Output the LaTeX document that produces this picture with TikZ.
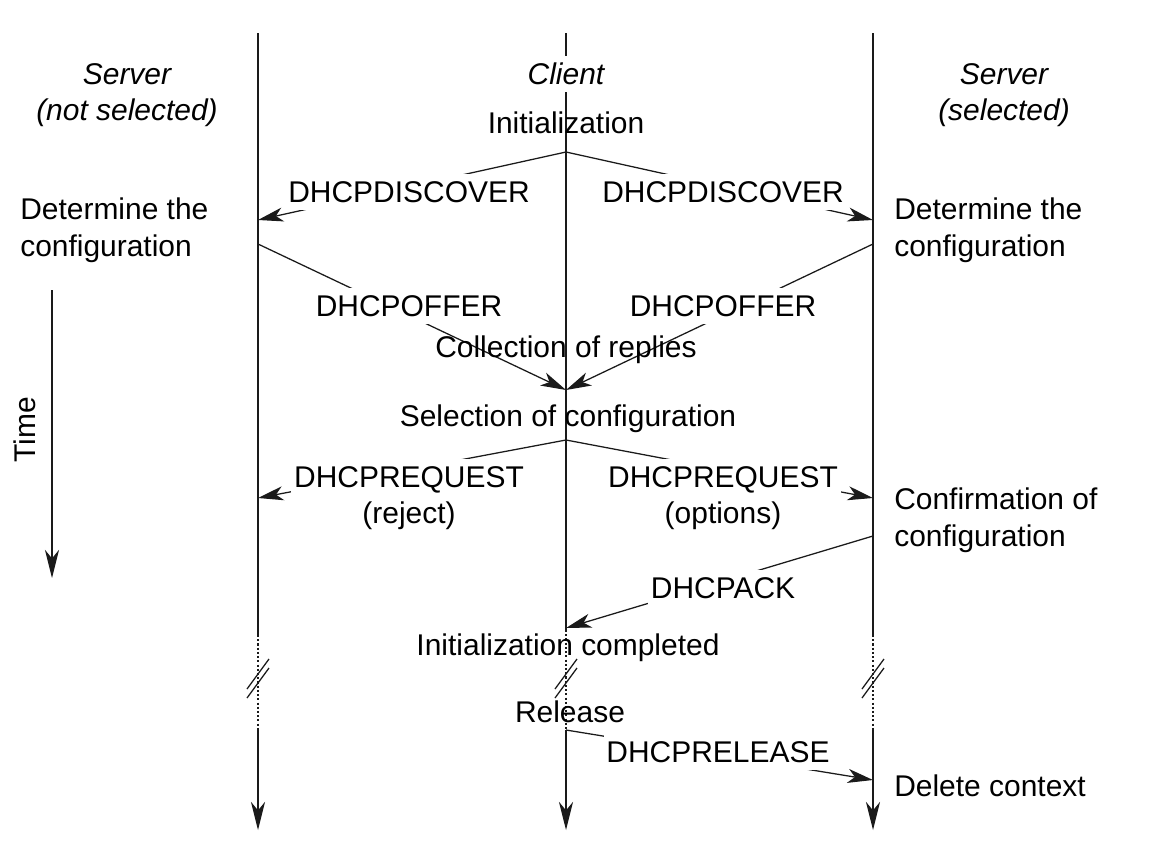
\documentclass[tikz,border=0pt]{standalone}
\usepackage{fontspec}
\setmainfont{Liberation Sans}
\usetikzlibrary{arrows.meta}
\usetikzlibrary{calc}
\definecolor{fg}{HTML}{1A1A1A}
\definecolor{bg}{HTML}{FFFFFF}

\tikzset{
  life/.style={draw=fg, line width=1pt},
  lifeclient/.style={draw=fg, line width=2pt},
  gap/.style={draw=fg, line width=1pt, dash pattern=on 1.5pt off 1.5pt},
  lifeend/.style={-{Stealth[length=20pt, width=10pt, inset=6pt]}},
  msg/.style={draw=fg, line width=0.9pt, -{Stealth[length=18pt, width=10pt, inset=5pt]}},
  brk/.style={draw=fg, line width=0.9pt},
  lbl/.style={fill=bg, inner xsep=2pt, inner ysep=5pt, align=center},
  txt/.style={inner sep=0pt, align=left},
}

\begin{document}
\begin{tikzpicture}[x=0.025cm, y=-0.025cm, font=\fontsize{21.3}{26}\selectfont]
  \useasboundingbox (0,0) rectangle (1172,849);

  % lifelines
  \coordinate (sl) at (258,33);
  \coordinate (cl) at (566,33);
  \coordinate (sr) at (873,33);

  \foreach \s in {sl,sr}{
    \draw[life] (\s) -- ($(\s)+(0,602)$);
    \draw[gap] ($(\s)+(0,602)$) -- ($(\s)+(0,697)$);
    \draw[life, lifeend] ($(\s)+(0,697)$) -- ($(\s)+(0,797)$);
  }
  \draw[lifeclient] (cl) -- ($(cl)+(0,597)$);
  \draw[gap] ($(cl)+(0,597)$) -- ($(cl)+(0,697)$);
  \draw[life, lifeend] ($(cl)+(0,697)$) -- ($(cl)+(0,797)$);

  % break marks
  \foreach \s in {sl,cl,sr}{
    \draw[brk] ($(\s)+(-11,656)$) -- ++(22,-30);
    \draw[brk] ($(\s)+(-11,665)$) -- ++(22,-30);
  }

  % points on the lifelines
  \coordinate (init) at ($(cl)+(0,119)$);
  \coordinate (disl) at ($(sl)+(0,187)$);
  \coordinate (disr) at ($(sr)+(0,187)$);
  \coordinate (offl) at ($(sl)+(0,211)$);
  \coordinate (offr) at ($(sr)+(0,211)$);
  \coordinate (coll) at ($(cl)+(0,357)$);
  \coordinate (sel)  at ($(cl)+(0,407)$);
  \coordinate (reql) at ($(sl)+(0,465)$);
  \coordinate (reqr) at ($(sr)+(0,465)$);
  \coordinate (conf) at ($(sr)+(0,503)$);
  \coordinate (done) at ($(cl)+(0,595)$);
  \coordinate (rel)  at ($(cl)+(0,697)$);
  \coordinate (del)  at ($(sr)+(0,747)$);

  % messages
  \draw[msg] (init) -- (disl);
  \draw[msg] (init) -- (disr);
  \draw[msg] (offl) -- (coll);
  \draw[msg] (offr) -- (coll);
  \draw[msg] (sel) -- (reql);
  \draw[msg] (sel) -- (reqr);
  \draw[msg] (conf) -- (done);
  \draw[msg] (rel) -- (del);

  \node[lbl] (disL) at (409,192) {DHCPDISCOVER};
  \node[lbl] (disR) at (723,192) {DHCPDISCOVER};
  \node[lbl] (offL) at (409,306) {DHCPOFFER};
  \node[lbl] (offR) at (723,306) {DHCPOFFER};
  \node[lbl] (reqL) at (409,498) {DHCPREQUEST\\(reject)};
  \node[lbl] (reqR) at (723,498) {DHCPREQUEST\\(options)};
  \node[lbl] (ack)  at (723,588) {DHCPACK};
  \node[lbl] (relM) at (718,752) {DHCPRELEASE};

  % headings
  \node[align=center, font=\fontsize{21.3}{26}\selectfont\itshape] (srvL) at (127,95) {Server\\(not selected)};
  \node[align=center, font=\fontsize{21.3}{26}\selectfont\itshape] (srvR) at (1004,95) {Server\\(selected)};
  \node[fill=bg, inner sep=5pt, font=\fontsize{21.3}{26}\selectfont\itshape] (cli) at (566,74) {Client};

  % states
  \node (sInit) at (566,123) {Initialization};
  \node[txt, anchor=north west] (detL) at (20,198) {Determine the\\configuration};
  \node[txt, anchor=north west] (detR) at (894,198) {Determine the\\configuration};
  \node (sColl) at (566,350) {Collection of replies};
  \node (sSel) at (568,419) {Selection of configuration};
  \node[txt, anchor=north west] (sConf) at (894,488) {Confirmation of\\configuration};
  \node (sDone) at (568,648) {Initialization completed};
  \node (sRel) at (570,712) {Release};
  \node[txt, anchor=west] (sDel) at (894,786) {Delete context};

  % time axis
  \coordinate (t0) at (52,290);
  \coordinate (t1) at (52,578);
  \draw[life, lifeend] (t0) -- (t1);
  \node[rotate=90] (time) at (25,430) {Time};
\end{tikzpicture}
\end{document}
